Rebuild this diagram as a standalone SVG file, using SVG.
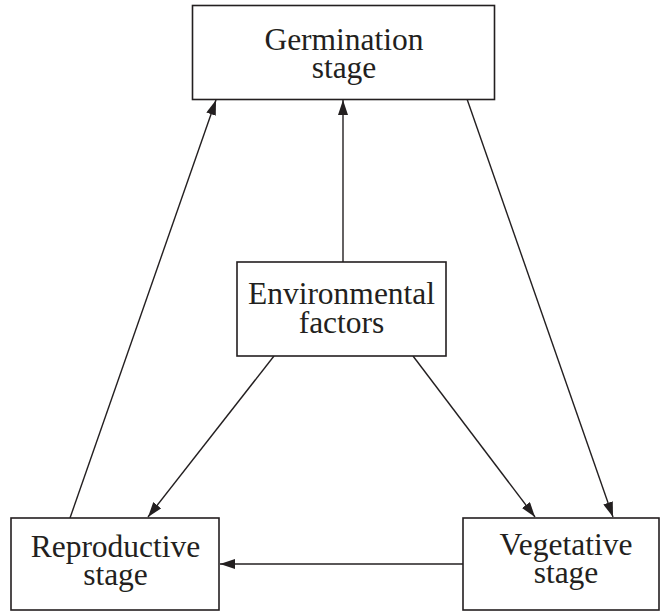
<svg xmlns="http://www.w3.org/2000/svg" width="661" height="612" viewBox="0 0 661 612">
<style>
.box{fill:#fff;stroke:#231f20;stroke-width:1.6}
.lbl{font-family:"Liberation Serif","Times New Roman",serif;font-size:31.5px;fill:#231f20;text-anchor:middle}
.edge{stroke:#231f20;stroke-width:1.4;fill:none;marker-end:url(#ah)}
</style>
<defs>
<marker id="ah" markerUnits="userSpaceOnUse" markerWidth="16" markerHeight="10" refX="15" refY="5" orient="auto">
<path d="M0,0 L15,5 L0,10 z" fill="#231f20"/>
</marker>
</defs>
<rect width="661" height="612" fill="#fff"/>
<g id="connectors">
<line class="edge" x1="70" y1="518" x2="216" y2="100"/>
<line class="edge" x1="343" y1="262" x2="343" y2="100"/>
<line class="edge" x1="467" y1="99" x2="613" y2="517"/>
<line class="edge" x1="413" y1="356" x2="535" y2="517"/>
<line class="edge" x1="274" y1="356" x2="148" y2="517"/>
<line class="edge" x1="463" y1="564" x2="220" y2="564"/>
</g>
<g id="germination">
<rect class="box" x="192.5" y="5.5" width="302" height="94"/>
<text class="lbl"><tspan x="344" y="50">Germination</tspan><tspan x="344" y="78">stage</tspan></text>
</g>
<g id="environmental">
<rect class="box" x="237" y="262" width="209" height="94"/>
<text class="lbl"><tspan x="341.5" y="304">Environmental</tspan><tspan x="341.5" y="333">factors</tspan></text>
</g>
<g id="reproductive">
<rect class="box" x="11" y="518" width="208" height="92"/>
<text class="lbl"><tspan x="115.5" y="557">Reproductive</tspan><tspan x="115.5" y="585">stage</tspan></text>
</g>
<g id="vegetative">
<rect class="box" x="463" y="518" width="196" height="92"/>
<text class="lbl"><tspan x="566" y="555">Vegetative</tspan><tspan x="566" y="583">stage</tspan></text>
</g>
</svg>
